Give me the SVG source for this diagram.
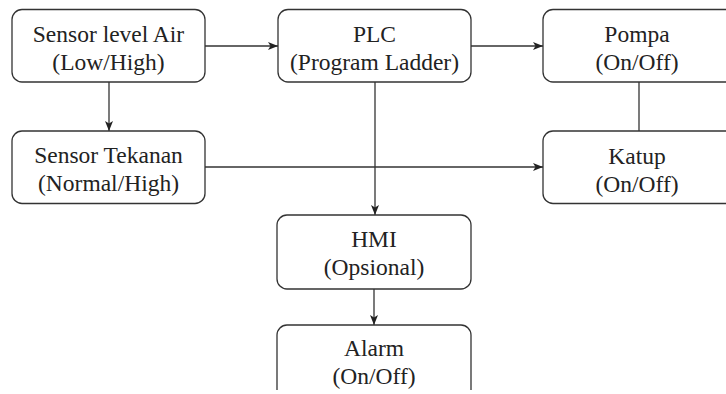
<svg xmlns="http://www.w3.org/2000/svg" width="726" height="394" viewBox="0 0 726 394" font-family="Liberation Serif, DejaVu Serif, serif">
<style>
.box{fill:#fff;stroke:#333;stroke-width:1.3}
.t{font-size:23.5px;fill:#222;text-anchor:middle}
.c{fill:none;stroke:#333;stroke-width:1.3}
</style>
<defs>
<marker id="ah" viewBox="0 0 10 10" refX="10" refY="5" markerWidth="10" markerHeight="10" markerUnits="userSpaceOnUse" orient="auto">
<path d="M0,1 L10,5 L0,9 L2.5,5 Z" fill="#222"/>
</marker>
</defs>
<rect width="726" height="394" fill="#fff"/>
<g id="connectors">
<path class="c" d="M205,46 H278" marker-end="url(#ah)"/>
<path class="c" d="M471,46 H543" marker-end="url(#ah)"/>
<path class="c" d="M109,82 V131" marker-end="url(#ah)"/>
<path class="c" d="M639,82 V131"/>
<path class="c" d="M205,167 H543" marker-end="url(#ah)"/>
<path class="c" d="M375,82 V215" marker-end="url(#ah)"/>
<path class="c" d="M374,289 V325" marker-end="url(#ah)"/>
</g>
<g id="sensor-level">
<rect class="box" x="12" y="9.5" width="193" height="72.5" rx="10"/>
<text class="t" x="108.5" y="42" font-family="Liberation Serif, serif">Sensor level Air</text>
<text class="t" x="108.5" y="70" font-family="Liberation Serif, serif">(Low/High)</text>
</g>
<g id="plc">
<rect class="box" x="278" y="9.5" width="193" height="72.5" rx="10"/>
<text class="t" x="374.5" y="42" font-family="Liberation Serif, serif">PLC</text>
<text class="t" x="374.5" y="70" font-family="Liberation Serif, serif">(Program Ladder)</text>
</g>
<g id="pompa">
<rect class="box" x="543" y="9.5" width="193" height="72.5" rx="10"/>
<text class="t" x="637" y="42" font-family="Liberation Serif, serif">Pompa</text>
<text class="t" x="637" y="70" font-family="Liberation Serif, serif">(On/Off)</text>
</g>
<g id="sensor-tekanan">
<rect class="box" x="12" y="131" width="193" height="72.5" rx="10"/>
<text class="t" x="108.5" y="163" font-family="Liberation Serif, serif">Sensor Tekanan</text>
<text class="t" x="108.5" y="191" font-family="Liberation Serif, serif">(Normal/High)</text>
</g>
<g id="katup">
<rect class="box" x="543" y="131" width="193" height="72.5" rx="10"/>
<text class="t" x="637" y="164" font-family="Liberation Serif, serif">Katup</text>
<text class="t" x="637" y="192" font-family="Liberation Serif, serif">(On/Off)</text>
</g>
<g id="hmi">
<rect class="box" x="277" y="215" width="194" height="74" rx="10"/>
<text class="t" x="374" y="247" font-family="Liberation Serif, serif">HMI</text>
<text class="t" x="374" y="275" font-family="Liberation Serif, serif">(Opsional)</text>
</g>
<g id="alarm">
<path class="box" d="M277,390 V335 A10,10 0 0 1 287,325 H461 A10,10 0 0 1 471,335 V390"/>
<text class="t" x="374" y="356" font-family="Liberation Serif, serif">Alarm</text>
<text class="t" x="374" y="384" font-family="Liberation Serif, serif">(On/Off)</text>
</g>
</svg>
